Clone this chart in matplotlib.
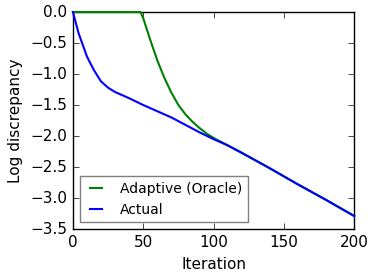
import matplotlib
matplotlib.use("Agg")
import matplotlib.pyplot as plt

plt.style.use("classic")

# Actual curve
actual_x = [0, 4, 10, 15, 20, 25, 30, 40, 50, 60, 70, 80, 90, 100, 110, 120, 140, 160, 180, 200]
actual_y = [0.0, -0.34, -0.72, -0.94, -1.12, -1.22, -1.29, -1.39, -1.5, -1.6, -1.7, -1.82, -1.94, -2.05, -2.15, -2.27, -2.52, -2.78, -3.03, -3.29]

# Adaptive (oracle) curve
oracle_x = [0, 48, 50, 55, 60, 65, 70, 75, 80, 85, 90, 95, 100, 105, 110, 120, 140, 160, 180, 200]
oracle_y = [0.0, 0.0, -0.1, -0.45, -0.78, -1.06, -1.3, -1.5, -1.65, -1.77, -1.87, -1.96, -2.03, -2.09, -2.15, -2.27, -2.52, -2.78, -3.03, -3.29]

fig, ax = plt.subplots(figsize=(3.74, 2.8), dpi=100)
ax.plot(oracle_x, oracle_y, color="green", lw=1.5, label="Adaptive (Oracle)",
        clip_on=False, zorder=3)
ax.plot(actual_x, actual_y, color="blue", lw=1.5, label="Actual",
        clip_on=False, zorder=3)
ax.set_xlim(0, 200)
ax.set_ylim(-3.5, 0.0)
ax.set_xticks([0, 50, 100, 150, 200])
ax.set_yticks([-3.5, -3.0, -2.5, -2.0, -1.5, -1.0, -0.5, 0.0])
ax.tick_params(labelsize=11)
ax.set_xlabel("Iteration", fontsize=11)
ax.set_ylabel("Log discrepancy", fontsize=11)
leg = ax.legend(loc="lower left", fontsize=10, handlelength=1.5,
                handletextpad=1.0, borderpad=0.4)
leg.get_frame().set_edgecolor("gray")
fig.subplots_adjust(left=0.195, right=0.947, top=0.957, bottom=0.182)
fig.savefig("out.png", dpi=100)
